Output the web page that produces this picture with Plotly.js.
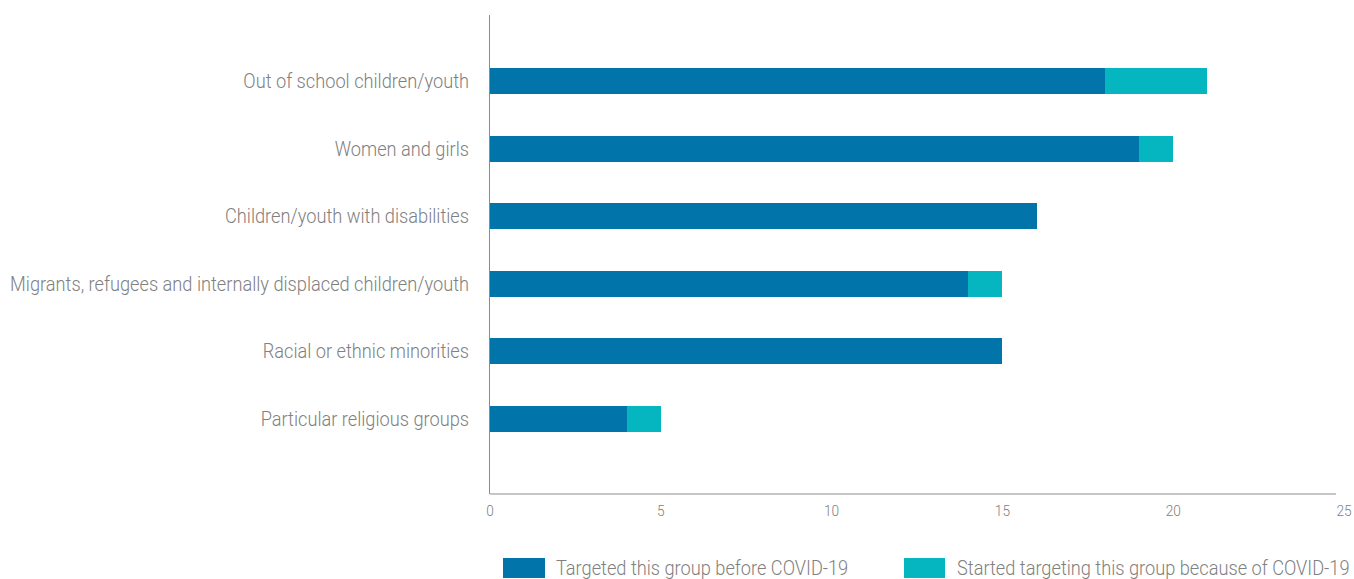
<!DOCTYPE html>
<html>
<head>
<meta charset="utf-8">
<script src="https://cdn.plot.ly/plotly-3.0.1.min.js"></script>
<style>html,body{margin:0;padding:0;background:#fff;}#chart{width:1354px;height:579px;}</style>
</head>
<body>
<div id="chart"></div>
<script>
const categories = [
  "Out of school children/youth",
  "Women and girls",
  "Children/youth with disabilities",
  "Migrants, refugees and internally displaced children/youth",
  "Racial or ethnic minorities",
  "Particular religious groups"
];
const beforeCovid = [18, 19, 16, 14, 15, 4];
const becauseCovid = [3, 1, 0, 1, 0, 1];
const seriesNames = ["Targeted this group before COVID-19", "Started targeting this group because of COVID-19"];
const xTicks = [0, 5, 10, 15, 20, 25];

const FONT = "Roboto, 'Liberation Sans', sans-serif";
const C1 = "#0174A9", C2 = "#05B5C0", GREY = "#808080", LINE = "#8c8c8c";
const idx = categories.map((c, i) => i);
const PW = 854, PH = 479; // plot area size in px

const traces = [
  {type: "bar", orientation: "h", y: idx, x: beforeCovid, name: seriesNames[0],
   marker: {color: C1}, width: 0.385, hoverinfo: "x+name"},
  {type: "bar", orientation: "h", y: idx, x: becauseCovid, name: seriesNames[1],
   marker: {color: C2}, width: 0.385, hoverinfo: "x+name"}
];

const layout = {
  width: 1354, height: 579,
  barmode: "stack",
  showlegend: false,
  paper_bgcolor: "#fff", plot_bgcolor: "#fff",
  margin: {l: 490, r: 10, t: 15, b: 85},
  font: {family: FONT, color: GREY, weight: 300},
  xaxis: {
    range: [0, 25], tickvals: xTicks, ticktext: xTicks.map(String),
    showgrid: false, zeroline: false, showline: false, ticklabeloverflow: "allow",
    ticks: "", tickfont: {family: FONT, size: 15, color: GREY, weight: 300}, ticklabelstandoff: 6
  },
  yaxis: {
    range: [6.11, -0.98], tickvals: idx, ticktext: categories,
    showgrid: false, zeroline: false, showline: true, linecolor: LINE, linewidth: 1,
    ticks: "", tickfont: {family: FONT, size: 20, color: GREY, weight: 300}, ticklabelstandoff: 16
  },
  shapes: [
    {type: "line", xref: "paper", yref: "paper", x0: 0, x1: 846/PW, y0: 0, y1: 0,
     line: {color: LINE, width: 1}},
    {type: "rect", xref: "paper", yref: "paper", x0: 13/PW, x1: 55/PW, y0: -84/PH, y1: -64/PH,
     fillcolor: C1, line: {width: 0}},
    {type: "rect", xref: "paper", yref: "paper", x0: 414/PW, x1: 455/PW, y0: -84/PH, y1: -64/PH,
     fillcolor: C2, line: {width: 0}}
  ],
  annotations: [
    {xref: "paper", yref: "paper", x: 64/PW, y: -74/PH, xanchor: "left", yanchor: "middle",
     text: seriesNames[0], showarrow: false, font: {family: FONT, size: 20, color: GREY, weight: 300}},
    {xref: "paper", yref: "paper", x: 465/PW, y: -74/PH, xanchor: "left", yanchor: "middle",
     text: seriesNames[1], showarrow: false, font: {family: FONT, size: 20, color: GREY, weight: 300}}
  ]
};

Plotly.newPlot("chart", traces, layout, {displayModeBar: false, staticPlot: true}).then(function (gd) {
  // emulate the condensed typeface of the original by narrowing glyphs horizontally
  const ratio = 0.91;
  gd.querySelectorAll(".ytick text, .xtick text").forEach(function (t) {
    const w = t.getComputedTextLength();
    t.setAttribute("lengthAdjust", "spacingAndGlyphs");
    t.setAttribute("textLength", (w * ratio).toFixed(2));
  });
  gd.querySelectorAll(".annotation-text-g").forEach(function (g) {
    const t = g.querySelector("text");
    if (!t) return;
    const bb = t.getBBox();
    const w = t.getComputedTextLength();
    t.setAttribute("text-anchor", "start");
    t.setAttribute("x", bb.x);
    t.querySelectorAll("tspan").forEach(function (s) { if (s.hasAttribute("x")) s.setAttribute("x", bb.x); });
    t.setAttribute("lengthAdjust", "spacingAndGlyphs");
    t.setAttribute("textLength", (w * ratio).toFixed(2));
    g.querySelectorAll("rect").forEach(function (r) {
      const rw = parseFloat(r.getAttribute("width"));
      if (!isNaN(rw)) r.setAttribute("width", (rw - w * (1 - ratio)).toFixed(2));
    });
  });
});
</script>
</body>
</html>
